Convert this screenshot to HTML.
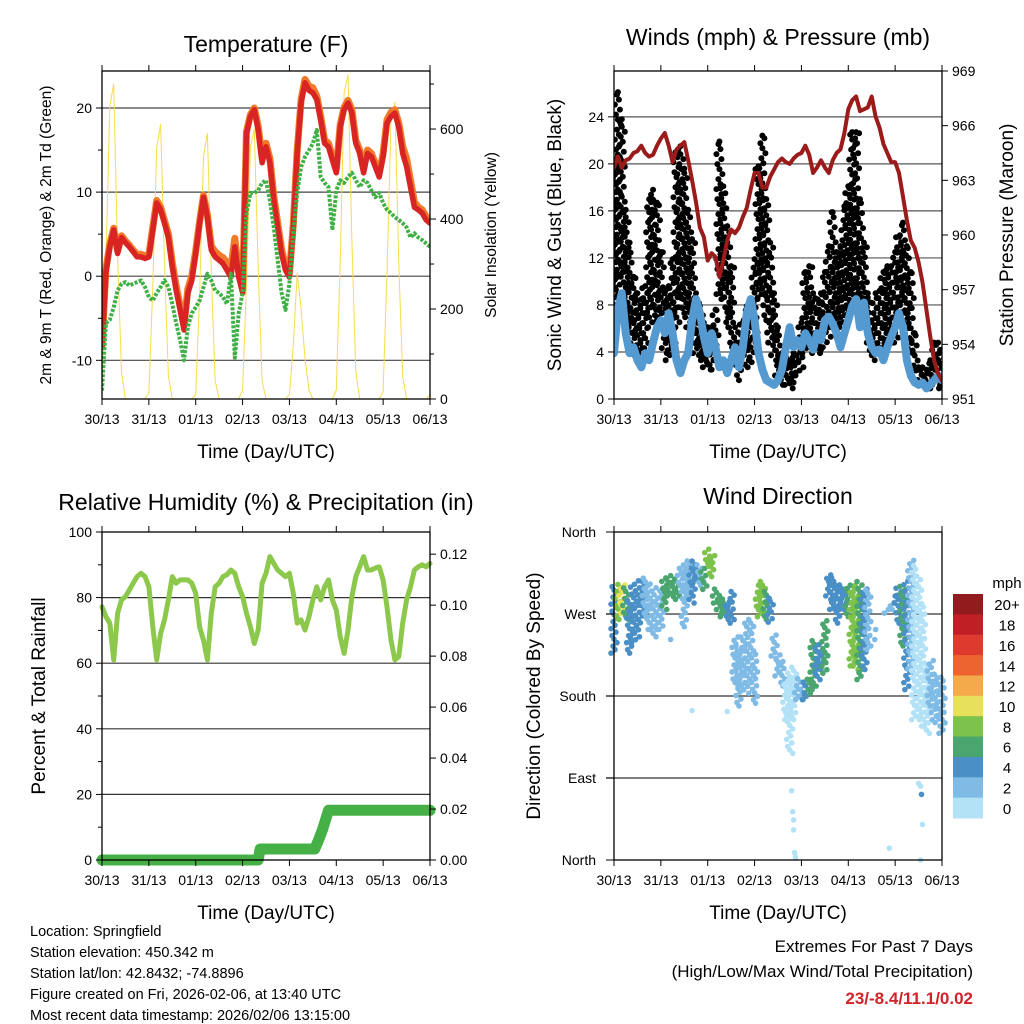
<!DOCTYPE html>
<html><head><meta charset="utf-8"><style>
body{margin:0;background:#fff}
svg{display:block;font-family:"Liberation Sans",sans-serif}
</style></head><body>
<svg id="s" width="1024" height="1024" viewBox="0 0 1024 1024" xmlns="http://www.w3.org/2000/svg"></svg>
<script>
// ---- data (2-hour steps, hour 0..168) ----
const dayLabels=["30/13","31/13","01/13","02/13","03/13","04/13","05/13","06/13"];
const temp2m=[-8.5,0.4,3.5,5.5,2.7,4.6,4.0,3.5,2.9,2.3,2.3,2.1,2.3,5.5,8.7,7.9,6.3,4.6,1.1,-1.7,-4.0,-6.4,-2.0,-0.5,2.7,6.3,9.4,7.0,3.1,2.3,1.9,1.5,0.7,-0.1,3.5,-0.1,-2.0,17,19,19.8,17.4,13.5,15.4,13.5,9.0,5.8,2.7,0.7,-0.1,5.8,14.6,20.6,23.0,22.1,21.8,21.0,18.6,15.8,15.4,13.8,12.3,17.7,19.8,20.6,19.4,15.8,14.6,12.3,14.6,14.2,13,11.8,14.2,18.2,19.0,19.4,17.7,14.6,13,10.6,8.2,7.9,7.5,6.7,6.3];
const temp9m=[-8.2,0.8,3.8,5.7,3.0,4.8,4.2,3.7,3.1,2.6,2.6,2.4,2.6,5.8,9.0,8.2,6.6,5.0,1.6,-1.2,-3.5,-5.8,-1.5,0.0,3.0,6.5,9.6,7.3,3.6,2.9,2.5,2.2,1.6,1.0,4.5,0.5,-1.5,17.2,19.2,20.0,17.8,14.0,15.8,14.0,9.5,6.3,3.2,1.2,0.3,6.2,15.0,21.0,23.4,22.6,22.4,21.4,19.0,16.2,15.8,14.2,12.7,18.0,20.1,20.9,19.8,16.2,15.0,12.8,15.0,14.6,13.4,12.2,14.6,18.6,19.5,19.8,18.2,15.4,14.0,11.4,8.8,8.2,7.9,7.1,6.6];
const dewPt=[-13.6,-5.6,-5.2,-3.7,-1.7,-0.9,-0.7,-1.1,-0.9,-0.7,-0.5,-1.3,-2.5,-2.9,-2.0,-1.3,-0.5,-1.3,-3.3,-5.6,-7.6,-10,-6.0,-4.4,-3.7,-2.9,-1.3,0.3,-0.5,-1.7,-2.0,-2.5,-3.3,0.3,-9.7,-4.4,-2.0,7.5,9.9,9.9,10.2,11.1,11.4,9.0,5.8,1.9,-2.0,-4.0,-0.9,5.1,9.9,13,14.2,15,15.8,17.4,11.8,11.1,10.6,5.5,10.2,11.4,11.1,11.8,12.3,11.4,10.6,11.4,11.1,10.2,9.4,9.9,8.7,7.9,7.5,7.0,6.7,6.3,5.8,4.6,5.1,4.6,4.3,3.9,3.5];
const solar=[20,300,650,700,320,60,0,0,0,0,0,0,15,250,560,610,300,50,0,0,0,0,0,0,10,230,540,590,280,40,0,0,0,0,0,0,20,260,560,600,290,40,0,0,0,0,0,0,10,120,280,200,90,20,0,0,0,0,0,0,20,300,680,720,350,60,0,0,0,0,0,0,15,280,620,660,300,50,0,0,0,0,0,0,10];
const pressure=[963.7,964.3,963.7,964.1,964.2,964.5,964.6,964.9,964.5,964.3,964.4,964.9,965.3,965.6,964.9,964.0,964.7,964.9,965.1,964.1,963.0,961.8,960.4,959.9,958.6,959.0,958.8,957.7,958.6,959.7,960.3,960.1,960.4,961.0,961.5,962.5,963.4,963.4,962.6,962.6,963.2,963.6,964.0,964.2,964.0,963.9,964.2,964.4,964.5,964.9,964.4,963.4,963.7,964.1,963.7,963.4,964.1,964.5,964.7,965.6,966.9,967.4,967.6,966.8,966.9,967.0,967.6,966.5,965.9,965.0,964.5,964.0,964.0,963.4,962.1,960.8,959.7,959.3,958.5,957.4,955.9,954.4,953.1,952.4,952.0];
const windMean=[3.9,7.6,9.0,5.6,3.9,4.4,3.3,2.7,3.9,3.3,4.8,6.1,6.7,5.6,7.3,5.6,3.3,2.2,3.3,3.9,6.7,8.5,7.3,5.3,3.9,5.6,4.4,2.7,3.3,2.2,3.3,4.4,2.7,4.4,7.3,8.5,6.7,3.9,2.5,1.6,1.4,1.2,1.6,2.5,4.4,6.1,4.4,5.0,4.4,5.6,5.0,4.2,5.6,5.0,6.7,7.0,6.4,5.6,4.4,5.6,6.7,7.9,8.5,6.1,8.2,5.6,4.4,3.9,4.2,3.3,4.4,5.3,6.1,7.3,6.1,3.3,2.0,1.4,1.2,1.4,0.9,1.2,1.6,2.0,1.6];
const gustHigh=[20.4,26.1,23.8,16.1,13.3,10.4,9.0,8.5,9.6,17.0,17.8,16.7,12.5,9.0,9.6,11.9,21.0,21.5,19.6,16.1,13.6,9.0,7.9,6.5,6.1,6.1,7.6,21.9,18.1,14.7,11.3,6.1,4.8,6.5,7.9,6.7,11.9,19.8,22.4,17.0,13.3,9.0,6.1,3.9,3.6,3.3,3.9,5.0,6.5,10.8,11.3,9.0,8.5,9.0,10.8,13.0,15.9,12.5,13.0,16.4,18.1,22.7,22.7,17.0,13.3,9.0,6.7,9.0,9.2,10.8,11.3,11.3,12.5,13.8,15.0,13.0,10.8,5.6,2.7,2.7,2.5,3.3,4.8,4.8,4.2];
const gustLow=[6.1,7.6,10.4,6.1,4.8,3.9,3.3,3.9,3.9,6.1,7.6,6.7,6.1,3.9,3.3,3.9,6.1,8.5,7.3,6.1,5.6,3.9,3.3,2.7,2.5,2.5,3.3,8.5,9.0,6.1,4.8,2.7,1.6,2.5,3.3,2.7,4.8,8.5,9.0,6.7,4.8,3.3,2.0,1.2,1.2,0.9,1.4,2.0,2.7,3.9,4.4,3.9,3.9,4.2,4.4,5.3,6.1,5.6,6.1,6.7,7.3,7.6,9.0,7.3,6.1,4.8,3.3,3.9,3.9,3.9,4.2,4.8,4.8,6.1,6.7,5.6,3.9,2.0,1.2,1.2,0.9,0.9,1.2,1.2,0.9];
const rh=[77.2,74.2,72.2,61,75.2,79.3,80.3,82.3,84.4,86.4,87.4,86.4,83.3,71.1,61,69.1,73.2,79.3,86.4,84.4,85.4,85.4,85.4,84.4,81.3,71.1,67,61,75.2,83.3,84.4,86.4,87,88.4,87.4,83.3,80.3,75.2,71.1,66,70.1,84.4,87.4,92.5,90.4,88.4,87.4,86.4,87.4,81.3,72.2,73.2,70.1,74.2,79.3,83.3,79.3,83.3,85.4,79.3,76.2,68.1,63,70.1,80.3,86.4,89.4,92.5,88.4,88.4,89,89.4,85.4,77.2,67,61,62,72.2,79.3,83.3,88.4,89.4,90,89.4,90.4];
const precipHours=[0,80,81,109,111,113,116,168];
const precipVals=[0,0,0.0043,0.0043,0.008,0.012,0.0195,0.0195];
const dirLow=[227,264,271,264,227,238,245,264,267,253,245,253,253,275,289,289,286,297,256,286,282,304,301,297,322,311,282,271,267,264,260,191,169,191,183,191,172,267,271,264,261,220,202,191,154,117,154,176,176,176,183,187,198,209,205,286,275,260,275,271,267,213,209,198,209,231,242,253,249,260,271,275,282,256,235,187,206,154,154,147,139,169,154,147,139];
const dirHigh=[300,304,304,300,286,300,308,308,311,304,300,289,300,311,315,311,308,326,319,330,330,322,326,322,344,337,300,293,289,286,297,245,235,245,264,264,227,304,308,297,289,249,227,220,198,209,213,202,194,198,202,242,238,231,264,315,311,304,304,300,304,300,304,308,300,297,242,253,242,253,275,286,293,300,304,308,330,326,315,282,213,220,206,198,202];
const dirSpeed=[4,9,10,7,4,4,4,4,3,2,2,2,3,6,7,7,6,3,2,3,4,4,3,6,8,8,7,7,6,5,4,2,2,2,2,2,2,8,9,7,4,2,2,2,1,1,1,2,3,4,6,7,4,4,6,4,4,4,4,4,7,8,8,7,4,2,2,2,2,2,3,3,4,5,7,5,3,1,1,1,1,2,2,2,3];
const outlierHours=[91,91.5,92,92,92.5,93,141,156,157,157.5,158,157,40,58,29];
const outlierDirs=[76,53,44,33,8,3,13,84,81,72,39,0,164,163,242];
const outlierSpeeds=[1,1,1,1,1,1,1,1,1,4,1,1,1,1,2];
const speedColors=["#b3e2f7","#80bbe6","#4a8fc6","#4aa56f","#7dc24b","#e6e05a","#f4a94a","#ee6430","#df3a2e","#c01f26","#921b1d"];
const speedLabels=["0","2","4","6","8","10","12","14","16","18","20+"];

const svg=document.getElementById('s');
const NS="http://www.w3.org/2000/svg";
function mk(tag,attrs,parent){const e=document.createElementNS(NS,tag);for(const k in attrs)e.setAttribute(k,attrs[k]);(parent||svg).appendChild(e);return e;}
function txt(x,y,s,size,anchor,parent,extra){const t=mk('text',Object.assign({x:x,y:y,'font-size':size,'text-anchor':anchor||'middle',fill:'#000'},extra||{}),parent);t.textContent=s;return t;}
const HOURS=168;
function xs(L,R){return h=>L+h*(R-L)/HOURS;}
function ys(T,B,lo,hi){return v=>B-(v-lo)*(B-T)/(hi-lo);}
function hourAt(i){return i*2;}
const JIT=[-3,1,-1,3,0,-2,2];

function panel(name){
  const g=mk('g',{});
  
  
  return g;
}
function frame(g,L,T,R,B){
  const f=mk('rect',{x:L,y:T,width:R-L,height:B-T,fill:'none',stroke:'#000','stroke-width':1.3},g);
  
  
}
function grid(g,L,R,y,col){const l=mk('line',{x1:L,x2:R,y1:y,y2:y,stroke:col||'#444','stroke-width':1.2},g);}
function xaxis(g,L,T,R,B,X){
  for(let d=0;d<=7;d++){const x=X(d*24);
    mk('line',{x1:x,x2:x,y1:B,y2:B+6,stroke:'#000'},g);mk('line',{x1:x,x2:x,y1:T,y2:T-6,stroke:'#000'},g);
    const t=txt(x,B+25,dayLabels[d],14,'middle',g);}
  const at=txt((L+R)/2,B+59,"Time (Day/UTC)",19,'middle',g);
}
function ytick(g,x,y,s,side,len){mk('line',{x1:x,x2:x+(side<0?-len:len),y1:y,y2:y,stroke:'#000'},g);if(s!==null){const t=txt(x+(side<0?-10:10),y+5,s,14,side<0?'end':'start',g);}}
function rtitle(g,x,y,s,size,name){const t=txt(x,y,s,size,'middle',g,{transform:`rotate(-90 ${x} ${y})`});}
function title(g,x,y,s){const t=txt(x,y,s,23,'middle',g);}
function poly(g,pts,attrs,name){const p=mk('polyline',Object.assign({points:pts.map(p=>p[0].toFixed(1)+','+p[1].toFixed(1)).join(' '),fill:'none','stroke-linejoin':'round','stroke-linecap':'round'},attrs),g);return p;}

// ===== Panel 1: Temperature =====
(function(){
  const L=102,T=71,R=430,B=399;const X=xs(L,R);const Y=ys(T,B,-14.6,24.4);const S=ys(T,B,0,729);
  const g=panel('temperature-panel');
  title(g,266,52,"Temperature (F)");
  [-10,0,10,20].forEach(v=>grid(g,L,R,Y(v)));
  const cp=mk('clipPath',{id:'c1'},g);mk('rect',{x:L,y:T,width:R-L,height:B-T},cp);
  const d=mk('g',{'clip-path':'url(#c1)'},g);
  poly(d,solar.map((v,i)=>[X(hourAt(i)),S(v)]),{stroke:'#f7dc4a','stroke-width':1},'solar-line');
  poly(d,temp9m.map((v,i)=>[X(hourAt(i)),Y(v)]),{stroke:'#f07a2a','stroke-width':7},'temp-9m-line');
  poly(d,temp2m.map((v,i)=>[X(hourAt(i)),Y(v)]),{stroke:'#d92424','stroke-width':5.5},'temp-2m-line');
  poly(d,dewPt.map((v,i)=>[X(hourAt(i)),Y(v)]),{stroke:'#3fb045','stroke-width':4,'stroke-dasharray':'3 1.5','stroke-linecap':'butt'},'dewpoint-line');
  frame(g,L,T,R,B);
  [-10,0,10,20].forEach(v=>ytick(g,L,Y(v),String(v),-1,6));
  [-5,5,15].forEach(v=>ytick(g,L,Y(v),null,-1,4));
  [0,200,400,600].forEach(v=>ytick(g,R,S(v),String(v),1,6));
  [100,300,500,700].forEach(v=>ytick(g,R,S(v),null,1,4));
  xaxis(g,L,T,R,B,X);
  rtitle(g,51,235,"2m & 9m T (Red, Orange) & 2m Td (Green)",15.5,'y-axis-title-left');
  rtitle(g,496,235,"Solar Insolation (Yellow)",15.5,'y-axis-title-right');
})();

// ===== Panel 2: Winds & Pressure =====
(function(){
  const L=614,T=71,R=942,B=399;const X=xs(L,R);const Y=ys(T,B,0,27.9);const P=ys(T,B,951,969);
  const g=panel('winds-panel');
  title(g,778,45,"Winds (mph) & Pressure (mb)");
  [4,8,12,16,20,24].forEach(v=>grid(g,L,R,Y(v),'#555'));
  const cp=mk('clipPath',{id:'c2'},g);mk('rect',{x:L,y:T,width:R-L,height:B-T},cp);
  const d=mk('g',{'clip-path':'url(#c2)'},g);
  for(let i=0;i<gustHigh.length;i++){
    const x=X(hourAt(i));const y1=Y(gustHigh[i]),y2=Y(gustLow[i]);
    let k=i;
    for(let y=y2;y>=y1;y-=5){
      const c=mk('circle',{cx:x+JIT[k%7],cy:y,r:3,fill:'#000'},d);
      
      
      k++;
    }
    const c=mk('circle',{cx:x,cy:y1,r:3,fill:'#000'},d);
    
    
  }
  poly(d,windMean.map((v,i)=>[X(hourAt(i)),Y(v)]),{stroke:'#5499d0','stroke-width':8},'wind-mean-line');
  poly(d,pressure.map((v,i)=>[X(hourAt(i)),P(v)]),{stroke:'#9b1b1b','stroke-width':4},'pressure-line');
  frame(g,L,T,R,B);
  [0,4,8,12,16,20,24].forEach(v=>ytick(g,L,Y(v),String(v),-1,6));
  [951,954,957,960,963,966,969].forEach(v=>ytick(g,R,P(v),String(v),1,6));
  xaxis(g,L,T,R,B,X);
  rtitle(g,561,235,"Sonic Wind & Gust (Blue, Black)",19,'y-axis-title-left');
  rtitle(g,1013,235,"Station Pressure (Maroon)",19,'y-axis-title-right');
})();

// ===== Panel 3: RH & Precip =====
(function(){
  const L=102,T=532,R=430,B=860;const X=xs(L,R);const Y=ys(T,B,0,100);const Pr=ys(T,B,0,0.1287);
  const g=panel('humidity-panel');
  title(g,266,510,"Relative Humidity (%) & Precipitation (in)");
  [20,40,60,80].forEach(v=>grid(g,L,R,Y(v),'#333'));
  const cp=mk('clipPath',{id:'c3'},g);mk('rect',{x:L-8,y:T,width:R-L+16,height:B-T+8},cp);
  const d=mk('g',{'clip-path':'url(#c3)'},g);
  poly(d,rh.map((v,i)=>[X(hourAt(i)),Y(v)]),{stroke:'#8cc84b','stroke-width':5},'rh-line');
  const pp=[];for(let i=0;i<precipHours.length;i++){pp.push([X(precipHours[i]),Pr(precipVals[i])]);}
  poly(d,pp,{stroke:'#45b045','stroke-width':11},'precip-line');
  frame(g,L,T,R,B);
  [0,20,40,60,80,100].forEach(v=>ytick(g,L,Y(v),String(v),-1,6));
  [10,30,50,70,90].forEach(v=>ytick(g,L,Y(v),null,-1,4));
  [0,0.02,0.04,0.06,0.08,0.10,0.12].forEach(v=>ytick(g,R,Pr(v),v.toFixed(2),1,6));
  xaxis(g,L,T,R,B,X);
  rtitle(g,45,696,"Percent & Total Rainfall",19,'y-axis-title-left');
})();

// ===== Panel 4: Wind direction =====
(function(){
  const L=614,T=532,R=942,B=860;const X=xs(L,R);const Y=ys(T,B,0,360);
  const g=panel('wind-direction-panel');
  title(g,778,504,"Wind Direction");
  [90,180,270].forEach(v=>grid(g,L-8,R,Y(v),'#333'));
  const d=mk('g',{},g);
  function col(s){return speedColors[Math.min(10,Math.floor(s/2))];}
  for(let i=0;i<dirLow.length;i++){
    const x=X(hourAt(i));const y1=Y(dirHigh[i]),y2=Y(dirLow[i]);
    let k=i;
    for(let y=y2;y>=y1;y-=3.5){
      const c=mk('circle',{cx:x+JIT[k%7],cy:y,r:2.8,fill:col(dirSpeed[i])},d);
      
      
      k++;
    }
  }
  for(let i=0;i<outlierHours.length;i++){
    const c=mk('circle',{cx:X(outlierHours[i]),cy:Y(outlierDirs[i]),r:2.8,fill:col(outlierSpeeds[i])},d);
    
    
  }
  frame(g,L,T,R,B);
  const names=["North","East","South","West","North"];
  [0,90,180,270,360].forEach((v,i)=>{mk('line',{x1:L,x2:L-8,y1:Y(v),y2:Y(v),stroke:'#000'},g);const t=txt(L-18,Y(v)+5,names[i],14,'end',g);});
  xaxis(g,L,T,R,B,X);
  rtitle(g,540,696,"Direction (Colored By Speed)",19,'y-axis-title-left');
  const cb=mk('g',{},g);
  
  
  const ct=txt(1007,588,"mph",15,'middle',cb);
  const bh=(818-594)/11;
  for(let i=0;i<11;i++){
    const j=10-i;const y=594+i*bh;
    const r=mk('rect',{x:953,y:y,width:30,height:bh+0.5,fill:speedColors[j]},cb);
    
    
    const t=txt(1007,y+bh/2+6,speedLabels[j],15,'middle',cb);
    
    
  }
})();

// ===== Footer text =====
(function(){
  const g=mk('g',{});
  
  
  ["Location: Springfield","Station elevation: 450.342 m","Station lat/lon: 42.8432; -74.8896","Figure created on Fri, 2026-02-06, at 13:40 UTC","Most recent data timestamp: 2026/02/06 13:15:00"].forEach((s,i)=>{txt(30,936+i*21,s,14.5,'start',g);});
  const e=mk('g',{});
  
  
  txt(973,952,"Extremes For Past 7 Days",17,'end',e);
  txt(973,977,"(High/Low/Max Wind/Total Precipitation)",17,'end',e);
  txt(973,1004,"23/-8.4/11.1/0.02",17,'end',e,{fill:'#d2232a','font-weight':'bold'});
})();
</script>
</body></html>
